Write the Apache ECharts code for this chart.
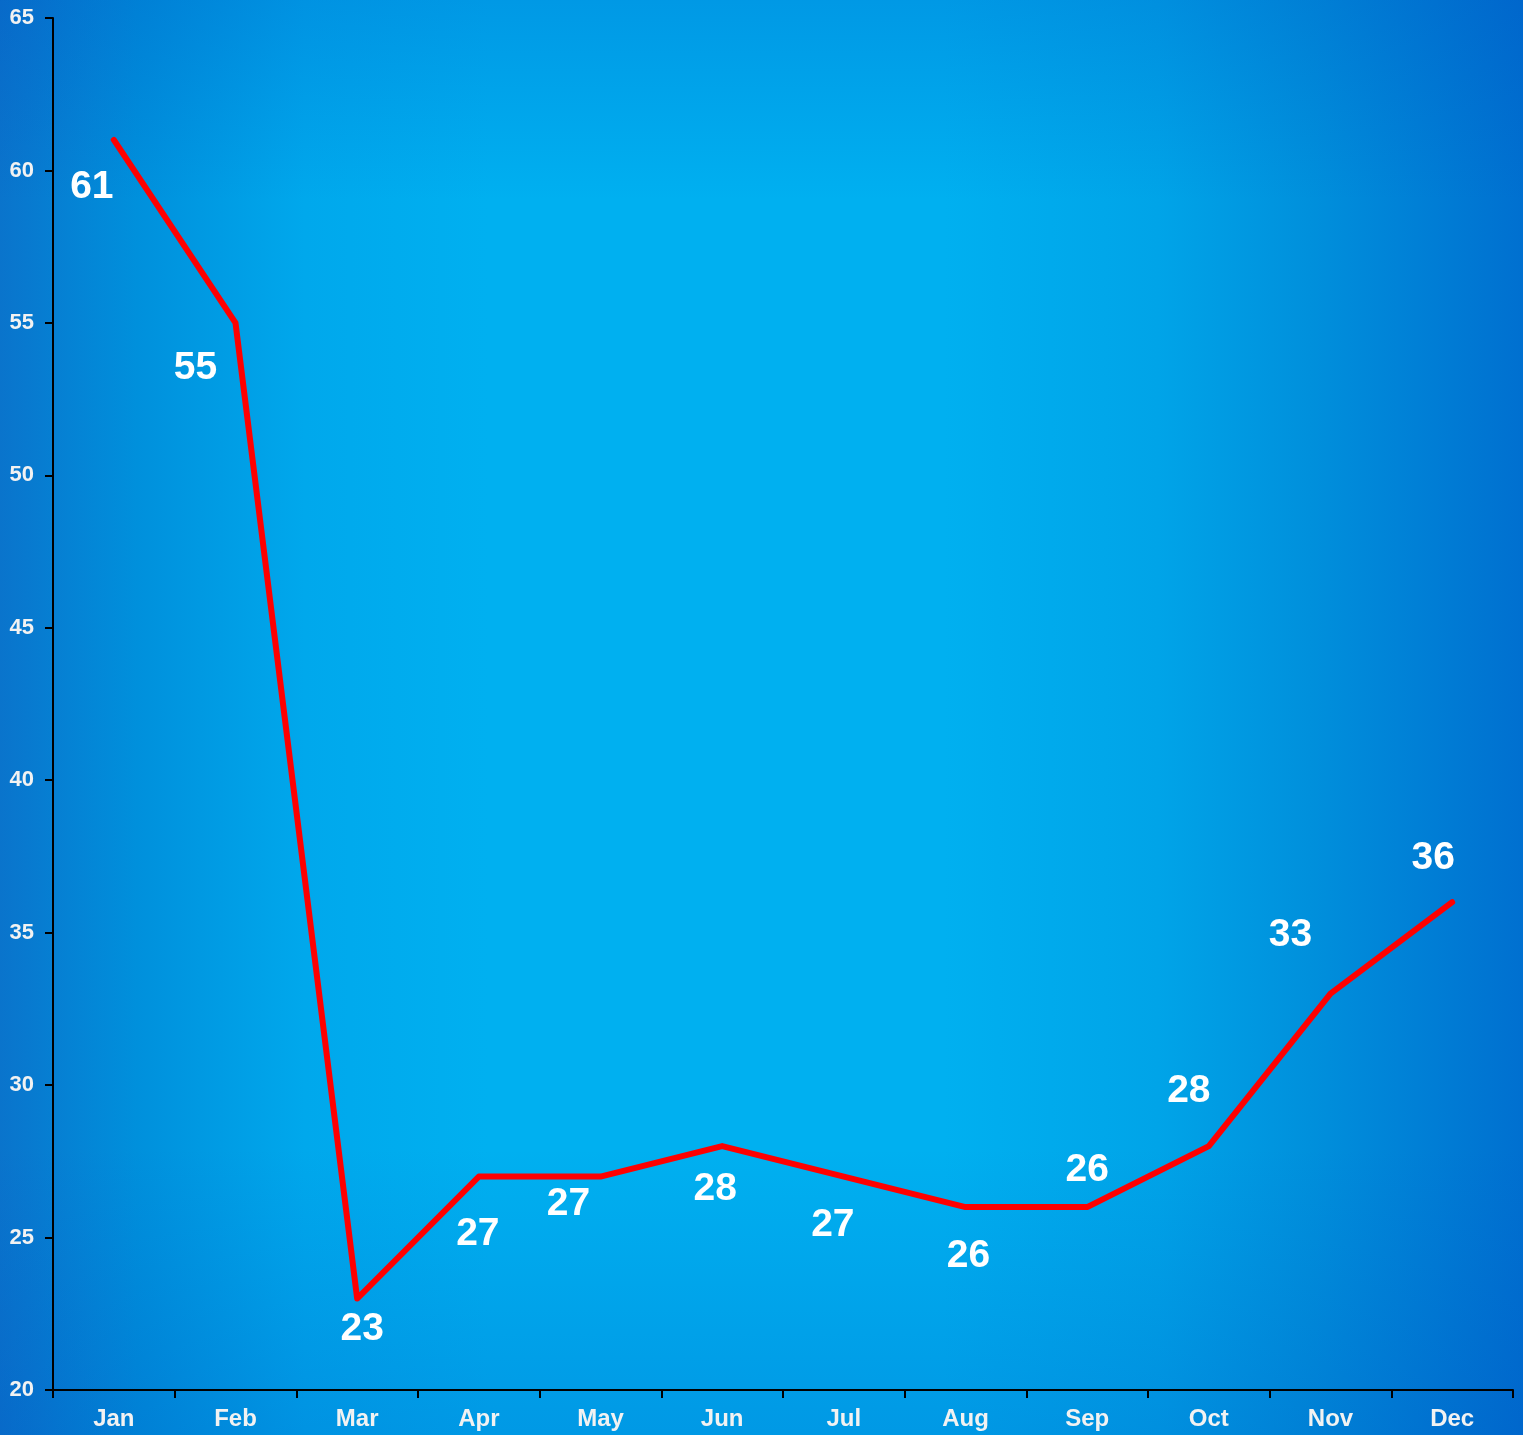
<!DOCTYPE html>
<html>
<head>
<meta charset="utf-8">
<script src="https://cdn.jsdelivr.net/npm/echarts@6/dist/echarts.min.js"></script>
<style>
html,body{margin:0;padding:0;}
#wrap{width:1523px;height:1435px;position:relative;
background:
 linear-gradient(to bottom, rgba(0,70,190,0.22) 0%, rgba(0,70,190,0) 14%, rgba(0,70,190,0) 80%, rgba(0,70,190,0.22) 100%),
 linear-gradient(to right, #0a74cc 0%, #0090dc 9%, #00a8ec 20%, #00b0f0 32%, #00b0f0 62%, #00a4e8 76%, #0090dc 86%, #0070d0 100%);}
#chart{width:1523px;height:1435px;}
</style>
</head>
<body>
<div id="wrap"><div id="chart"></div></div>
<script>
const categories = ['Jan','Feb','Mar','Apr','May','Jun','Jul','Aug','Sep','Oct','Nov','Dec'];
const values = [61,55,23,27,27,28,27,26,26,28,33,36];
const yMin = 20, yMax = 65, yStep = 5;

// label placement (style only)
const labelOffsets = [[-22,47],[-40,45],[5,31],[-1,58],[-32,28],[-7,43],[-11,49],[3,49],[0,-37],[-20,-55],[-40,-58],[-19,-44]];

const chart = echarts.init(document.getElementById('chart'), null, {renderer:'canvas'});
chart.setOption({
  backgroundColor: 'transparent',
  animation: false,
  grid: {left: 53, right: 10, top: 18, bottom: 45, containLabel: false},
  xAxis: {
    type: 'category',
    data: categories,
    boundaryGap: true,
    axisLine: {lineStyle: {color: '#000', width: 2}},
    axisTick: {show: true, length: 8, lineStyle: {color: '#000', width: 2}},
    axisLabel: {color: '#f2f2f2', fontFamily: 'Liberation Sans, Arial, sans-serif', fontWeight: 'bold', fontSize: 24, margin: 17}
  },
  yAxis: {
    type: 'value',
    min: yMin, max: yMax, interval: yStep,
    axisLine: {show: true, lineStyle: {color: '#000', width: 2}},
    axisTick: {show: true, length: 8, lineStyle: {color: '#000', width: 2}},
    splitLine: {show: false},
    axisLabel: {color: '#f2f2f2', fontFamily: 'Liberation Sans, Arial, sans-serif', fontWeight: 'bold', fontSize: 22, margin: 19}
  },
  series: [{
    type: 'line',
    data: values.map((v, i) => ({
      value: v,
      label: {offset: labelOffsets[i]}
    })),
    symbol: 'circle',
    symbolSize: 1,
    showSymbol: true,
    itemStyle: {color: 'rgba(0,0,0,0)'},
    lineStyle: {color: '#ff0000', width: 6, cap: 'round', join: 'round'},
    label: {
      show: true,
      position: 'inside',
      align: 'center',
      verticalAlign: 'middle',
      color: '#ffffff',
      fontFamily: 'Liberation Sans, Arial, sans-serif',
      fontWeight: 'bold',
      fontSize: 39
    }
  }]
});
</script>
</body>
</html>
